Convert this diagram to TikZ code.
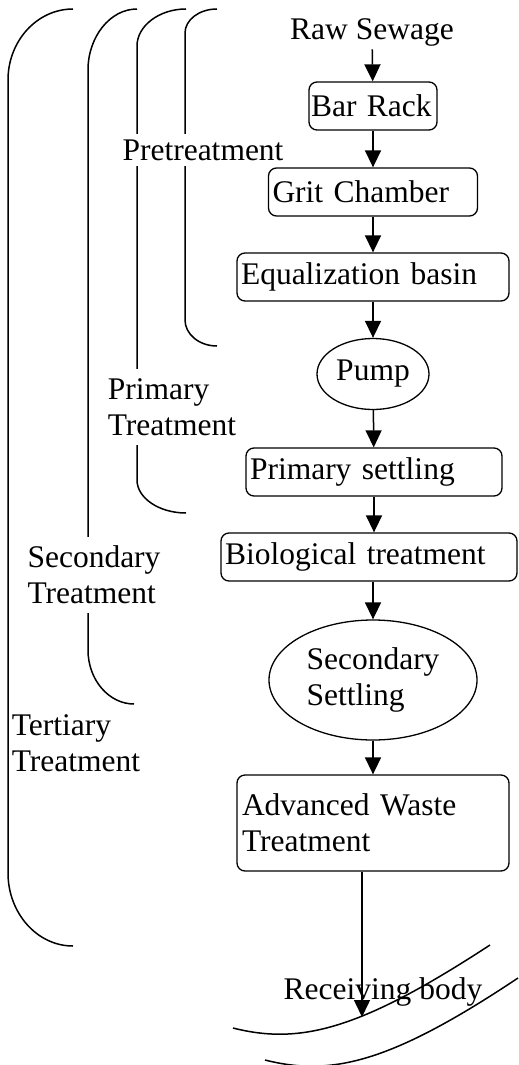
\documentclass[tikz,border=0pt]{standalone}
\usepackage{fontspec}
\setmainfont{Liberation Serif}
\usetikzlibrary{arrows.meta, shapes.geometric, positioning}
\tikzset{
  procbox/.style={rectangle, draw, rounded corners=8pt, line width=1.3pt, inner xsep=4pt, align=left, minimum height=48pt},
  roundbox/.style={ellipse, draw, line width=1.3pt, inner sep=0pt, align=left},
  stagelabel/.style={fill=white, inner xsep=2pt, inner ysep=9pt, align=left},
  arrow/.style={-{Triangle[length=17pt, width=16pt]}, line width=1.5pt},
  bracket/.style={line width=1.5pt}
}

\begin{document}
\begin{tikzpicture}[x=1pt, y=-1pt, font=\fontsize{31.5}{36}\selectfont]
  \useasboundingbox (0,0) rectangle (519,1065);

  % stage brackets
  \draw[bracket] (217,9) .. controls (199,9) and (185,20) .. (185,33) -- (185,320) .. controls (185,334) and (199,346) .. (217,346);
  \draw[bracket] (186,9) .. controls (159,9) and (137,26) .. (137,46) -- (137,480) .. controls (137,498) and (159,513) .. (186,513);
  \draw[bracket] (137,9) .. controls (110,9) and (88,37) .. (88,70) -- (88,650) .. controls (88,680) and (109,704) .. (134,704);
  \draw[bracket] (73,9) .. controls (37,9) and (8,41) .. (8,80) -- (8,873) .. controls (8,913) and (37,946) .. (73,946);

  \node[stagelabel, inner ysep=5.5pt] (pre) at (203,150) {Pretreatment};
  \node[stagelabel] (primlab) at (172,407) {Primary\\Treatment};
  \node[stagelabel] (seclab) at (94,575) {Secondary\\Treatment};
  \node[stagelabel] (terlab) at (76,743) {Tertiary\\Treatment};

  % process chain
  \node (raw) at (372,32) {Raw Sewage};
  \node[procbox, text width=124pt, inner xsep=2pt] (bar) at (373,106) {Bar Rack};
  \node[procbox, text width=201pt] (grit) at (373,192) {Grit Chamber};
  \node[procbox, text width=264pt] (equal) at (373,277) {Equalization basin};
  \node[roundbox, minimum width=112pt, minimum height=71pt] (pump) at (373,374) {Pump};
  \node[procbox, text width=248pt] (prim) at (374,472) {Primary settling};
  \node[procbox, text width=288pt] (bio) at (369,557) {Biological treatment};
  \node[roundbox, minimum width=208pt, minimum height=120pt] (secset) at (373,680) {Secondary\\Settling};
  \node[procbox, text width=262pt, inner xsep=5pt, minimum height=96pt] (adv) at (373,823) {Advanced Waste\\Treatment};

  % receiving body
  \draw[bracket] (233,1028) .. controls (300,1045) and (360,1030) .. (490,945);
  \draw[bracket] (265,1060) .. controls (332,1077) and (392,1062) .. (518,978);
  \node (recv) at (383,992) {Receiving body};
  \coordinate (inlet) at (362,1017);

  \draw[arrow] (raw) -- (bar);
  \draw[arrow] (bar) -- (grit);
  \draw[arrow] (grit) -- (equal);
  \draw[arrow] (equal) -- (pump);
  \draw[arrow] (pump) -- (prim);
  \draw[arrow] (prim) -- (prim |- bio.north);
  \draw[arrow] (bio.south -| secset) -- (secset);
  \draw[arrow] (secset) -- (adv);
  \draw[arrow] (inlet |- adv.south) -- (inlet);
\end{tikzpicture}
\end{document}
